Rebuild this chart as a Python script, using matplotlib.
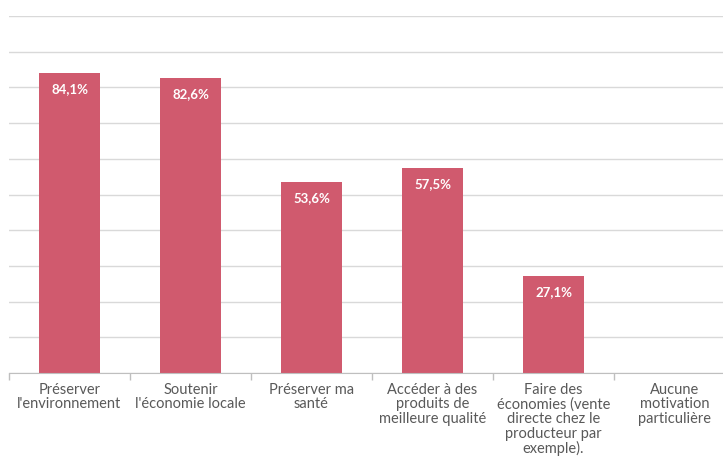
import matplotlib.pyplot as plt
import numpy as np

# motivations (libellés sur plusieurs lignes)
categories = ["Préserver\nl'environnement", "Soutenir\nl'économie locale", "Préserver ma\nsanté",
              "Accéder à des\nproduits de\nmeilleure qualité",
              "Faire des\néconomies (vente\ndirecte chez le\nproducteur par\nexemple).",
              "Aucune\nmotivation\nparticulière"]
values = [84.1, 82.6, 53.6, 57.5, 27.1, 0.0]
value_labels = ["84,1%", "82,6%", "53,6%", "57,5%", "27,1%", ""]

bar_color = '#D05A6E'
grid_color = '#D9D9D9'
text_color = '#595959'

plt.rcParams['font.family'] = ['Lato', 'DejaVu Sans']

fig = plt.figure(figsize=(7.23, 4.59), dpi=100)
ax = fig.add_axes([9/723, 86/459, 726/723, 357/459])

x = np.arange(len(categories))
bars = ax.bar(x, values, width=0.5, color=bar_color, zorder=2)

# valeurs en blanc dans le haut des barres
for b, lab in zip(bars, value_labels):
    if lab:
        ax.annotate(lab, (b.get_x() + b.get_width()/2, b.get_height()),
                    xytext=(0, -16), textcoords='offset pixels',
                    ha='center', va='center', color='white', fontsize=9.5, fontweight='bold')

ax.set_xlim(-0.5, len(categories) - 0.5)
ax.set_ylim(0, 100)
ax.set_yticks(np.arange(0, 101, 10))
ax.yaxis.grid(True, color=grid_color, linewidth=1)
ax.set_axisbelow(True)
ax.tick_params(axis='y', left=False, labelleft=False)

# graduations entre les catégories, libellés au centre
ax.set_xticks(np.arange(-0.5, len(categories), 1.0))
ax.set_xticklabels([])
ax.tick_params(axis='x', which='major', length=5, color='#BFBFBF', width=1)
ax.set_xticks(x, minor=True)
ax.set_xticklabels(categories, minor=True, fontsize=10.5, color=text_color, linespacing=1.05)
ax.tick_params(axis='x', which='minor', length=0, pad=7)

for s in ['top', 'right', 'left']:
    ax.spines[s].set_visible(False)
ax.spines['bottom'].set_color('#BFBFBF')

fig.savefig('out.png', dpi=100)
